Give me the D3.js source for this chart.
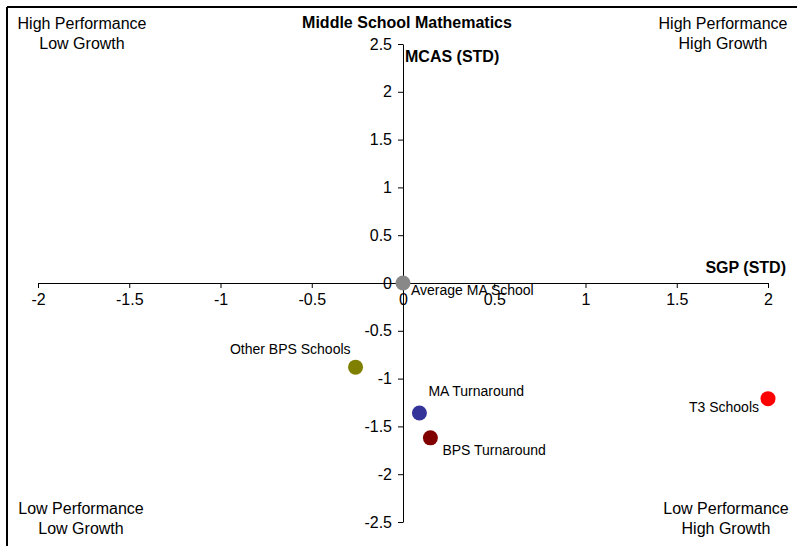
<!DOCTYPE html>
<html><head><meta charset="utf-8">
<script src="https://cdn.jsdelivr.net/npm/d3@7"></script>
<style>body{margin:0;background:#fff;} svg{display:block;font-family:"Liberation Sans",Arial,sans-serif;}</style>
</head><body>
<script>
const names = ["Average MA School","Other BPS Schools","MA Turnaround","BPS Turnaround","T3 Schools"];
const sgp = [0.0, -0.26, 0.09, 0.15, 2.0];
const mcas = [0.0, -0.88, -1.36, -1.62, -1.21];
const colors = ["#888888","#808000","#333399","#800000","#ff0000"];
const xTicks = [-2,-1.5,-1,-0.5,0,0.5,1,1.5,2];
const yTicks = [-2.5,-2,-1.5,-1,-0.5,0,0.5,1,1.5,2,2.5];
// label offsets (dx, dy, anchor)
const labelPos = [[8,12,"start"],[-5,-13,"end"],[9,-17,"start"],[12,17,"start"],[-9,13,"end"]];

const W=797,H=546;
const svg=d3.select("body").append("svg").attr("width",W).attr("height",H);
const x=d3.scaleLinear().domain([-2,2]).range([38,768]);
const y=d3.scaleLinear().domain([-2.5,2.5]).range([522,44]);

// frame
svg.append("line").attr("x1",7).attr("x2",W).attr("y1",7).attr("y2",7).attr("stroke","#000").attr("stroke-width",2);
svg.append("line").attr("x1",7).attr("x2",7).attr("y1",7).attr("y2",H).attr("stroke","#000").attr("stroke-width",2);

const fmt=d=>String(d);
const xAxis=svg.append("g").attr("transform",`translate(0,${y(0)})`)
  .call(d3.axisBottom(x).tickValues(xTicks).tickFormat(fmt).tickSizeInner(5).tickSizeOuter(0).tickPadding(6));
const yAxis=svg.append("g").attr("transform",`translate(${x(0)},0)`)
  .call(d3.axisLeft(y).tickValues(yTicks).tickFormat(fmt).tickSizeInner(5).tickSizeOuter(0).tickPadding(6));
[xAxis,yAxis].forEach(g=>{
  g.selectAll("path").attr("stroke","#000");
  g.selectAll("line").attr("stroke","#000");
  g.selectAll("text").attr("font-size",16).attr("fill","#000").attr("font-family","Liberation Sans, Arial, sans-serif");
});

svg.append("text").attr("x",407).attr("y",28).attr("text-anchor","middle").attr("font-weight","bold").attr("font-size",16).text("Middle School Mathematics");
svg.append("text").attr("x",405).attr("y",62).attr("font-weight","bold").attr("font-size",16).text("MCAS (STD)");
svg.append("text").attr("x",786).attr("y",273).attr("text-anchor","end").attr("font-weight","bold").attr("font-size",16).text("SGP (STD)");

const corners=[[82,29,"High Performance","Low Growth"],[723,29,"High Performance","High Growth"],[81,514,"Low Performance","Low Growth"],[726,514,"Low Performance","High Growth"]];
corners.forEach(c=>{
  const t=svg.append("text").attr("text-anchor","middle").attr("font-size",16);
  t.append("tspan").attr("x",c[0]).attr("y",c[1]).text(c[2]);
  t.append("tspan").attr("x",c[0]).attr("y",c[1]+20).text(c[3]);
});

const pts=names.map((n,i)=>({n,x:sgp[i],y:mcas[i],c:colors[i],l:labelPos[i]}));
svg.selectAll("circle.p").data(pts).join("circle").attr("class","p")
  .attr("cx",d=>x(d.x)).attr("cy",d=>y(d.y)).attr("r",7.5).attr("fill",d=>d.c);
svg.selectAll("text.l").data(pts).join("text").attr("class","l")
  .attr("x",d=>x(d.x)+d.l[0]).attr("y",d=>y(d.y)+d.l[1]).attr("text-anchor",d=>d.l[2])
  .attr("font-size",14).text(d=>d.n);
</script>
</body></html>
